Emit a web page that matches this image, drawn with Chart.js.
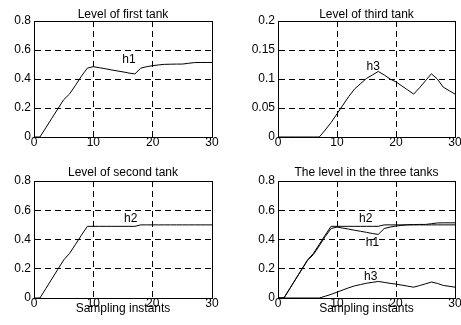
<!DOCTYPE html>
<html>
<head>
<meta charset="utf-8">
<script src="https://cdn.jsdelivr.net/npm/chart.js@4/dist/chart.umd.min.js"></script>
<style>
  html, body { margin: 0; padding: 0; background: #fff; overflow: hidden; width: 461px; height: 325px; }
  canvas { position: absolute; }
</style>
</head>
<body>
<canvas id="c1" width="230" height="162" style="left:0;top:0"></canvas>
<canvas id="c2" width="260" height="162" style="left:230px;top:0"></canvas>
<canvas id="c3" width="230" height="163" style="left:0;top:162px"></canvas>
<canvas id="c4" width="260" height="163" style="left:230px;top:162px"></canvas>
<script>
// sampling instants
const samples = [0,1,2,3,4,5,6,7,8,9,10,11,12,13,14,15,16,17,18,19,20,21,22,23,24,25,26,27,28,29,30];

// tank levels
const h1 = [0,0,0.064,0.129,0.193,0.257,0.297,0.357,0.42,0.475,0.485,0.478,0.471,0.463,0.456,0.449,0.441,0.435,0.475,0.485,0.492,0.497,0.501,0.502,0.503,0.503,0.508,0.513,0.514,0.514,0.514];
const h2 = [0,0,0.065,0.13,0.195,0.26,0.305,0.367,0.43,0.49,0.49,0.49,0.49,0.49,0.49,0.49,0.49,0.49,0.5,0.5,0.5,0.5,0.5,0.5,0.5,0.5,0.5,0.5,0.5,0.5,0.5];
const h3 = [0,0,0,0,0,0,0,0,0.012,0.025,0.04,0.055,0.07,0.083,0.092,0.101,0.107,0.113,0.107,0.1,0.095,0.088,0.081,0.074,0.085,0.097,0.109,0.1,0.086,0.08,0.074];

const xTicks = [0, 10, 20, 30];
const yTicksLevel = [0, 0.2, 0.4, 0.6, 0.8];
const yTicksThird = [0, 0.05, 0.1, 0.15, 0.2];

const FONT = '"Liberation Sans", Arial, Helvetica, sans-serif';
Chart.defaults.font.family = FONT;
Chart.defaults.color = '#000';

function pts(ys) {
  return samples.map((x, i) => ({ x: x, y: ys[i] }));
}

// top and right sides of the axes box
const boxPlugin = {
  id: 'box',
  afterDraw(chart) {
    const a = chart.chartArea, c = chart.ctx;
    c.save();
    c.strokeStyle = '#000';
    c.lineWidth = 1;
    c.beginPath();
    c.moveTo(Math.round(a.left), Math.round(a.top) + 0.5);
    c.lineTo(Math.round(a.right) + 0.5, Math.round(a.top) + 0.5);
    c.lineTo(Math.round(a.right) + 0.5, Math.round(a.bottom));
    c.stroke();
    c.restore();
  }
};

// curve names placed at data coordinates
const tagPlugin = {
  id: 'tags',
  afterDatasetsDraw(chart, args, opts) {
    const c = chart.ctx, xs = chart.scales.x, ys = chart.scales.y;
    c.save();
    c.font = '12px ' + FONT;
    c.fillStyle = '#000';
    c.textAlign = 'center';
    c.textBaseline = 'middle';
    (opts.items || []).forEach(t => {
      c.fillText(t[0], xs.getPixelForValue(t[1]), ys.getPixelForValue(t[2]));
    });
    c.restore();
  }
};

function makeChart(id, cfg) {
  const canvas = document.getElementById(id);
  const W = canvas.width, H = canvas.height;
  const area = cfg.area; // [left, top, right, bottom] in canvas px
  new Chart(canvas, {
    type: 'line',
    data: {
      datasets: cfg.series.map(s => ({
        data: pts(s),
        borderColor: '#000',
        borderWidth: 1,
        pointRadius: 0,
        tension: 0,
        fill: false
      }))
    },
    options: {
      responsive: false,
      animation: false,
      layout: { padding: { left: 0, top: 0, right: W - area[2], bottom: 0 } },
      plugins: {
        legend: { display: false },
        tooltip: { enabled: false },
        title: {
          display: true,
          fullSize: false,
          text: cfg.title,
          color: '#000',
          font: { size: 12, weight: 'normal', lineHeight: 1 },
          padding: { top: cfg.titleTop, bottom: area[1] - 12 - cfg.titleTop }
        },
        tags: { items: cfg.tags }
      },
      scales: {
        x: {
          type: 'linear',
          min: 0, max: 30,
          afterBuildTicks: s => { s.ticks = xTicks.map(v => ({ value: v })); },
          afterFit: s => { s.height = H - area[3]; },
          ticks: { padding: 0, font: { size: 12, lineHeight: 1 }, color: '#000', maxRotation: 0 },
          grid: { color: '#000', lineWidth: 1, drawTicks: false, tickBorderDash: [] },
          border: { display: true, color: '#000', width: 1, dash: [6, 4] },
          title: cfg.xTitle ? {
            display: true, text: cfg.xTitle, color: '#000',
            font: { size: 12, lineHeight: 1 },
            padding: { top: 0, bottom: 10 }
          } : { display: false }
        },
        y: {
          type: 'linear',
          min: cfg.yTicks[0], max: cfg.yTicks[cfg.yTicks.length - 1],
          afterBuildTicks: s => { s.ticks = cfg.yTicks.map(v => ({ value: v })); },
          afterFit: s => { s.width = area[0]; },
          ticks: {
            padding: 3, font: { size: 12, lineHeight: 1 }, color: '#000',
            callback: v => String(Number(v.toFixed(4)))
          },
          grid: { color: '#000', lineWidth: 1, drawTicks: false },
          border: { display: true, color: '#000', width: 1, dash: [6, 4] }
        }
      }
    },
    plugins: [boxPlugin, tagPlugin]
  });
}

makeChart('c1', {
  title: 'Level of first tank', titleTop: 8.5,
  area: [34, 21, 212, 137],
  yTicks: yTicksLevel,
  series: [h1],
  tags: [['h1', 16, 0.53]]
});
makeChart('c2', {
  title: 'Level of third tank', titleTop: 8.5,
  area: [48, 21, 225, 137],
  yTicks: yTicksThird,
  series: [h3],
  tags: [['h3', 16.15, 0.122]]
});
makeChart('c3', {
  title: 'Level of second tank', titleTop: 5,
  area: [34, 19, 212, 136],
  yTicks: yTicksLevel,
  series: [h2],
  xTitle: 'Sampling instants',
  tags: [['h2', 16.3, 0.544]]
});
makeChart('c4', {
  title: 'The level in the three tanks', titleTop: 5,
  area: [48, 19, 225, 136],
  yTicks: yTicksLevel,
  series: [h1, h2, h3],
  xTitle: 'Sampling instants',
  tags: [['h2', 14.86, 0.544], ['h1', 16, 0.381], ['h3', 15.7, 0.143]]
});
</script>
</body>
</html>
